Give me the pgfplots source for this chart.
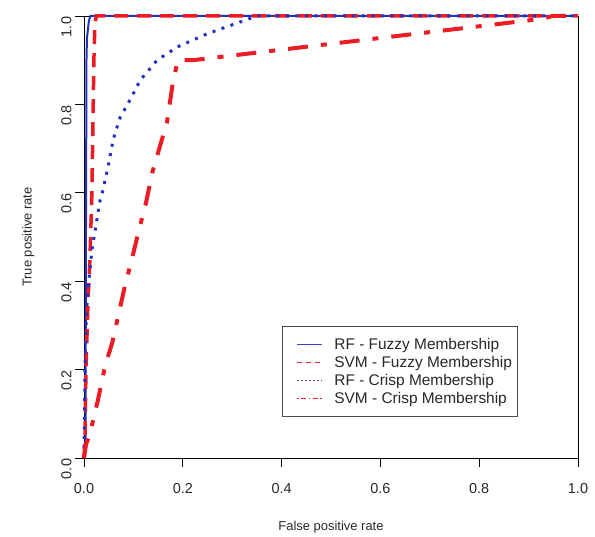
\documentclass[border=0pt]{standalone}
\usepackage{fontspec}
\setmainfont{Liberation Sans}
\usepackage{pgfplots}
\pgfplotsset{compat=1.18}

\definecolor{rblue}{RGB}{35,50,190}
\definecolor{rred}{RGB}{236,28,36}
\definecolor{lblue}{RGB}{60,60,215}
\definecolor{txt}{RGB}{40,40,40}

\begin{document}
\begin{tikzpicture}
\begin{axis}[
  scale only axis,
  width=494bp, height=442bp,
  xmin=0, xmax=1, ymin=0, ymax=1,
  xtick={0,0.2,...,1.0}, ytick={0,0.2,...,1.0},
  xtick pos=bottom, ytick pos=left,
  tick align=outside,
  major tick length=9bp,
  every tick/.style={black, line width=0.8bp},
  axis line style={black, line width=0.8bp},
  /pgf/number format/.cd, fixed, fixed zerofill, precision=1, assume math mode=true,
  /pgfplots/.cd,
  tick label style={font=\fontsize{14.5}{17}\selectfont, text=txt},
  xticklabel style={yshift=-13bp},
  yticklabel style={rotate=90, anchor=south, xshift=-11bp},
  every axis x label/.style={at={(axis description cs:0.5,-0.156)}, anchor=center,
    font=\fontsize{13}{15}\selectfont, text=txt},
  every axis y label/.style={at={(axis description cs:-0.113,0.5)}, rotate=90, anchor=center,
    font=\fontsize{13}{15}\selectfont, text=txt},
  xlabel={False positive rate},
  ylabel={True positive rate},
  clip=false,
  legend style={at={(0.401,0.299)}, anchor=north west, draw=black!70, line width=0.6bp,
    font=\fontsize{15.5}{18}\selectfont, text=txt, row sep=1.3bp,
    inner xsep=3bp, inner ysep=10bp},
  legend cell align=left,
  legend image code/.code={\path[draw=none] (0bp,0bp) (47bp,0bp);
    \draw[#1] (12bp,0bp) -- (37bp,0bp);},
]
% RF - fuzzy
\addplot[rblue, line width=2bp, forget plot] coordinates {
(0,0) (0.003,0.02) (0.004,0.5) (0.005,0.9) (0.006,0.95) (0.010,0.99) (0.013,1) (1,1)};
% SVM - fuzzy
\addplot[rred, line width=3.5bp, dash pattern=on 14bp off 9bp, forget plot] coordinates {
(0,0) (0.002,0.05) (0.004,0.2) (0.008,0.35) (0.012,0.45) (0.016,0.6) (0.018,0.75) (0.020,0.9) (0.022,0.98) (0.025,1) (1,1)};
% RF - crisp
\addplot[rblue, line width=3bp, dash pattern=on 3bp off 6.5bp, forget plot] coordinates {
(0,0) (0.002,0.2) (0.005,0.33) (0.008,0.38) (0.016,0.47) (0.032,0.58) (0.037,0.60) (0.049,0.66) (0.059,0.72) (0.073,0.77) (0.093,0.81) (0.114,0.855) (0.148,0.90) (0.189,0.93) (0.25,0.96) (0.30,0.98) (0.35,1.0) (1,1)};
% SVM - crisp
\addplot[rred, line width=4bp, dash pattern=on 20bp off 13bp on 6bp off 13bp, forget plot] coordinates {
(0,0) (0.004,0.03) (0.012,0.055) (0.028,0.13) (0.043,0.21) (0.057,0.26) (0.069,0.32) (0.083,0.39) (0.097,0.45) (0.110,0.51) (0.126,0.58) (0.138,0.645) (0.168,0.76) (0.180,0.85) (0.190,0.90) (0.22,0.90) (0.90,0.99) (0.93,0.995) (0.95,1) (1,1)};

\addlegendimage{draw=lblue, line width=1.1bp}
\addlegendentry{RF - Fuzzy Membership}
\addlegendimage{draw=rred, line width=1.1bp, dash pattern=on 5bp off 4bp}
\addlegendentry{SVM - Fuzzy Membership}
\addlegendimage{draw=lblue, line width=1.1bp, dash pattern=on 1.5bp off 2.5bp}
\addlegendentry{RF - Crisp Membership}
\addlegendimage{draw=rred, line width=1.1bp, dash pattern=on 1.5bp off 2.5bp on 5bp off 2.5bp}
\addlegendentry{SVM - Crisp Membership}
\end{axis}
\pgfresetboundingbox
\path[use as bounding box] ([xshift=-84bp,yshift=-79bp]current axis.south west) rectangle ([xshift=17bp,yshift=16bp]current axis.north east);
\end{tikzpicture}
\end{document}
